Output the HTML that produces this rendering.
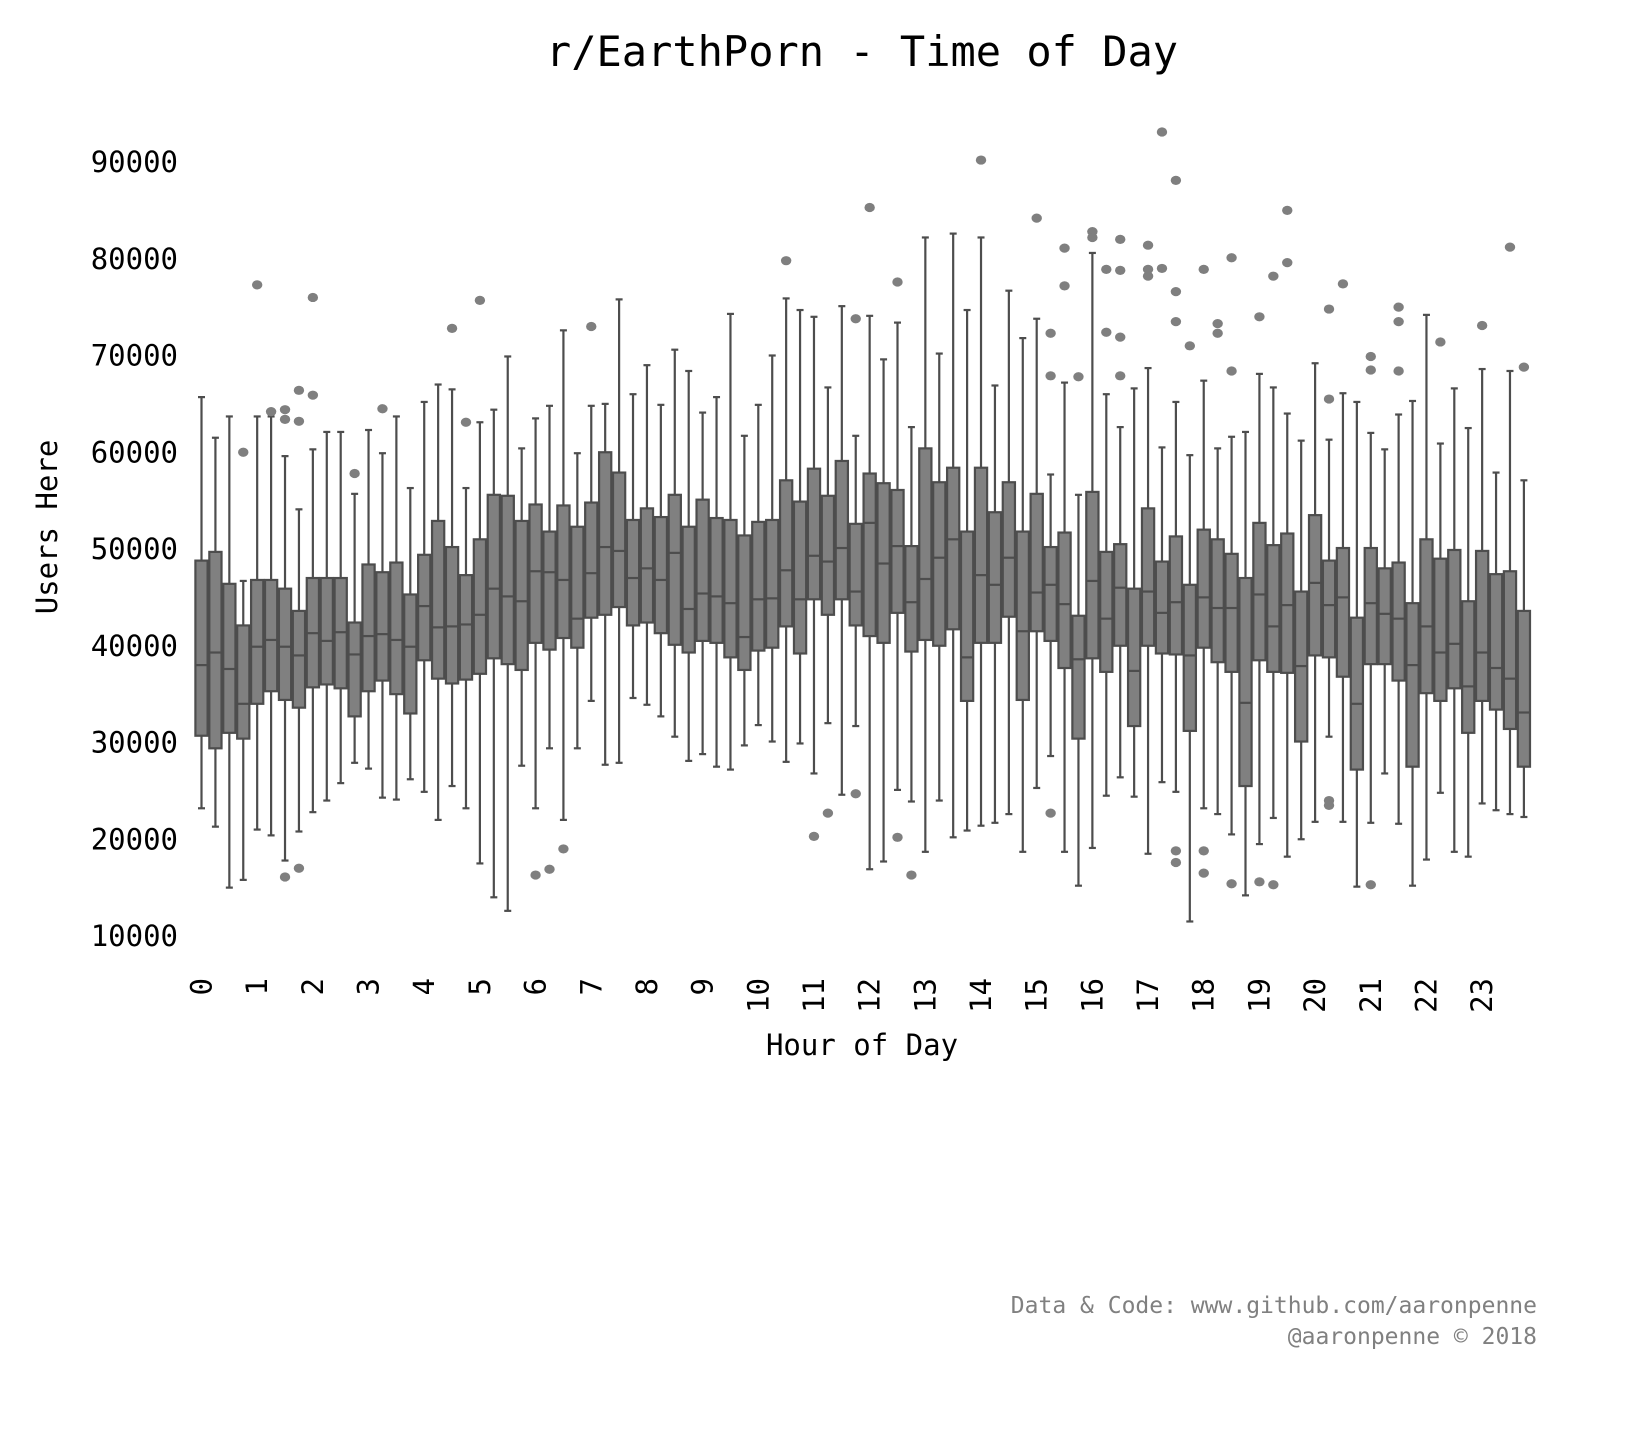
<!DOCTYPE html>
<html><head><meta charset="utf-8"><style>
html,body{margin:0;padding:0;background:#fff;}
svg{display:block;font-family:"DejaVu Sans Mono","Liberation Mono",monospace;}
</style></head><body>
<svg id="chart" width="1637" height="1443" viewBox="0 0 1637 1443" xmlns="http://www.w3.org/2000/svg">
<rect width="1637" height="1443" fill="#fff"/>
<text x="862" y="66" font-size="42" text-anchor="middle" fill="#000">r/EarthPorn - Time of Day</text>
<g id="yticks"></g>
<g id="xticks"></g>
<g id="boxes"></g>
<text x="862" y="1055" font-size="29" text-anchor="middle" fill="#000">Hour of Day</text>
<text transform="translate(57,527) rotate(-90)" font-size="29" text-anchor="middle" fill="#000">Users Here</text>
<text x="1537" y="1313" font-size="23" text-anchor="end" fill="#808080">Data &amp; Code: www.github.com/aaronpenne</text>
<text x="1537" y="1344" font-size="23" text-anchor="end" fill="#808080">@aaronpenne © 2018</text>
</svg>
<script>
// values in thousands: [whisker-low, q1, median, q3, whisker-high]
const lows   = [23.2,21.3,15.0,15.8,21.0,20.4,17.8,20.8,22.8,24.0,25.8,27.9,27.3,24.3,24.1,26.2,24.9,22.0,25.5,23.2,17.5,14.0,12.6,27.6,23.2,29.4,22.0,29.4,34.3,27.7,27.9,34.6,33.9,32.7,30.6,28.1,28.8,27.5,27.2,29.7,31.8,30.1,28.0,29.9,26.8,32.0,24.6,31.7,16.9,17.7,25.1,23.9,18.7,24.0,20.2,20.9,21.4,21.7,22.6,18.7,25.3,28.6,18.7,15.2,19.1,24.5,26.4,24.4,18.5,25.9,24.9,11.5,23.2,22.6,20.5,14.2,19.5,22.2,18.2,20.0,21.8,30.6,21.8,15.1,21.7,26.8,21.6,15.2,17.9,24.8,18.7,18.2,23.7,23.0,22.6,22.3];
const q1s    = [30.7,29.4,31.0,30.4,34.0,35.3,34.4,33.6,35.7,36.0,35.6,32.7,35.3,36.4,35.0,33.0,38.5,36.6,36.1,36.5,37.1,38.7,38.1,37.5,40.3,39.6,40.8,39.8,42.9,43.2,44.0,42.1,42.4,41.3,40.1,39.3,40.5,40.3,38.8,37.5,39.5,39.8,42.0,39.2,44.8,43.2,44.8,42.1,41.0,40.3,43.4,39.4,40.6,40.0,41.7,34.3,40.3,40.3,43.0,34.4,41.5,40.5,37.7,30.4,38.7,37.3,40.0,31.7,40.0,39.2,39.1,31.2,39.8,38.3,37.3,25.5,38.5,37.3,37.2,30.1,39.0,38.8,36.8,27.2,38.1,38.1,36.4,27.5,35.1,34.3,35.6,31.0,34.3,33.4,31.4,27.5];
const medians= [38.0,39.3,37.6,34.0,39.9,40.6,39.9,39.0,41.3,40.5,41.4,39.1,41.0,41.2,40.6,39.9,44.1,41.9,42.0,42.2,43.2,45.9,45.1,44.6,47.7,47.6,46.8,42.8,47.5,50.2,49.8,47.0,48.0,46.8,49.6,43.8,45.4,45.1,44.4,40.9,44.8,44.9,47.8,44.8,49.3,48.7,50.1,45.6,52.7,48.5,50.3,44.5,46.9,49.1,51.0,38.8,47.3,46.3,49.1,41.5,45.5,46.3,44.3,38.6,46.7,42.8,46.0,37.4,45.6,43.4,44.5,39.0,45.0,43.9,43.9,34.1,45.3,42.0,44.2,37.9,46.5,44.2,45.0,34.0,44.4,43.3,42.8,38.0,42.0,39.3,40.2,35.8,39.3,37.7,36.6,33.1];
const q3s    = [48.8,49.7,46.4,42.1,46.8,46.8,45.9,43.6,47.0,47.0,47.0,42.4,48.4,47.6,48.6,45.3,49.4,52.9,50.2,47.3,51.0,55.6,55.5,52.9,54.6,51.8,54.5,52.3,54.8,60.0,57.9,53.0,54.2,53.3,55.6,52.3,55.1,53.2,53.0,51.4,52.8,53.0,57.1,54.9,58.3,55.5,59.1,52.6,57.8,56.8,56.1,50.3,60.4,56.9,58.4,51.8,58.4,53.8,56.9,51.8,55.7,50.2,51.7,43.1,55.9,49.7,50.5,45.9,54.2,48.7,51.3,46.3,52.0,51.0,49.5,47.0,52.7,50.4,51.6,45.6,53.5,48.8,50.1,42.9,50.1,48.0,48.6,44.4,51.0,49.0,49.9,44.6,49.8,47.4,47.7,43.6];
const highs  = [65.7,61.5,63.7,46.7,63.7,63.7,59.6,54.1,60.3,62.1,62.1,55.7,62.3,59.9,63.7,56.3,65.2,67.0,66.5,56.3,63.1,64.4,69.9,60.4,63.5,64.8,72.6,59.9,64.8,65.0,75.8,66.0,69.0,64.9,70.6,68.4,64.1,65.7,74.3,61.7,64.9,70.0,75.9,74.7,74.0,66.7,75.1,61.7,74.1,69.6,73.4,62.6,82.2,70.2,82.6,74.7,82.2,66.9,76.7,71.8,73.8,57.7,67.2,55.6,80.6,66.0,62.6,66.6,68.7,60.5,65.2,59.7,67.4,60.4,61.6,62.1,68.1,66.7,64.0,61.2,69.2,61.3,66.1,65.2,62.0,60.3,63.9,65.3,74.2,60.9,66.6,62.5,68.6,57.9,68.4,57.1];
const outlierBox = [3,4,5,6,6,6,7,7,7,8,8,11,13,18,19,20,24,25,26,28,42,44,45,47,47,48,50,50,51,56,60,61,61,61,62,62,63,64,64,65,65,66,66,66,66,68,68,68,69,69,70,70,70,70,70,71,72,72,72,73,73,74,74,74,76,76,77,77,78,78,81,81,81,81,82,84,84,84,86,86,86,89,92,94,95];
const outlierVal = [60.0,77.3,64.2,64.4,63.4,16.1,66.4,63.2,17.0,76.0,65.9,57.8,64.5,72.8,63.1,75.7,16.3,16.9,19.0,73.0,79.8,20.3,22.7,73.8,24.7,85.3,77.6,20.2,16.3,90.2,84.2,72.3,67.9,22.7,81.1,77.2,67.8,82.8,82.2,78.9,72.4,82.0,78.8,71.9,67.9,81.4,78.9,78.2,93.1,79.0,88.1,76.6,73.5,18.8,17.6,71.0,78.9,18.8,16.5,73.3,72.3,80.1,68.4,15.4,74.0,15.6,78.2,15.3,85.0,79.6,74.8,65.5,24.0,23.5,77.4,69.9,68.5,15.3,75.0,73.5,68.4,71.4,73.1,81.2,68.8];
const yTicks = [10000,20000,30000,40000,50000,60000,70000,80000,90000];
const xTickLabels = ["0","1","2","3","4","5","6","7","8","9","10","11","12","13","14","15","16","17","18","19","20","21","22","23"];

const NS = "http://www.w3.org/2000/svg";
function yScale(v){ return 162 + (90000 - v) * 0.009675; }
function yK(k){ return yScale(k*1000); }
function xScale(i){ return 201.5 + i * 13.92; }
function mk(tag, attrs, parent){ const e=document.createElementNS(NS,tag); for(const k in attrs) e.setAttribute(k,attrs[k]); parent.appendChild(e); return e; }

const yg = document.getElementById('yticks');
yTicks.forEach(t=>{
  const e = mk('text',{x:178,y:yScale(t)+10,'font-size':29,'text-anchor':'end',fill:'#000'},yg);
  
  
  e.textContent = t;
});
const xg = document.getElementById('xticks');
xTickLabels.forEach((l,h)=>{
  const x = xScale(h*4);
  const e = mk('text',{transform:`translate(${x+10},978) rotate(-90)`,'font-size':29,'text-anchor':'end',fill:'#000'},xg);
  
  
  e.textContent = l;
});

const bg = document.getElementById('boxes');
const EDGE = '#4d4d4d', W = 12.2;
for(let i=0;i<lows.length;i++){
  const cx = xScale(i);
  const g = mk('g',{},bg);
  
  
  const sw = {stroke:EDGE,'stroke-width':2.2};
  mk('line',Object.assign({x1:cx,x2:cx,y1:yK(highs[i]),y2:yK(q3s[i])},sw),g);
  mk('line',Object.assign({x1:cx,x2:cx,y1:yK(q1s[i]),y2:yK(lows[i])},sw),g);
  mk('line',Object.assign({x1:cx-3.5,x2:cx+3.5,y1:yK(highs[i]),y2:yK(highs[i])},sw),g);
  mk('line',Object.assign({x1:cx-3.5,x2:cx+3.5,y1:yK(lows[i]),y2:yK(lows[i])},sw),g);
  mk('rect',Object.assign({x:cx-W/2,y:yK(q3s[i]),width:W,height:yK(q1s[i])-yK(q3s[i]),fill:'#808080'},sw),g);
  mk('line',Object.assign({x1:cx-W/2,x2:cx+W/2,y1:yK(medians[i]),y2:yK(medians[i])},sw),g);
}
for(let j=0;j<outlierBox.length;j++){
  const c = mk('ellipse',{cx:xScale(outlierBox[j]),cy:yK(outlierVal[j]),rx:5.2,ry:4.6,fill:'#7f7f7f'},bg);
  
  
}
</script>
</body></html>
